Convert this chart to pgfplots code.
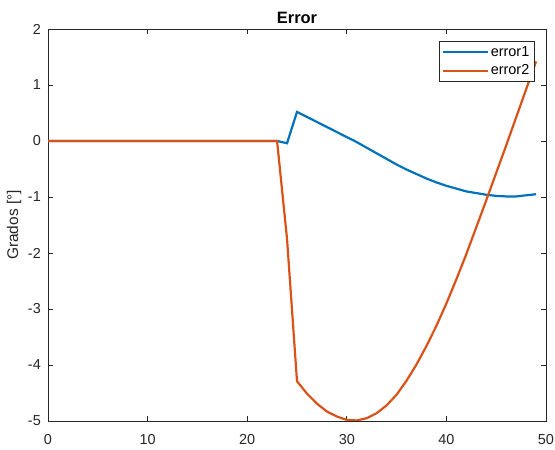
\documentclass[border=0pt]{standalone}
\usepackage{fontspec}
\setmainfont{Liberation Sans}
\usepackage{pgfplots}
\pgfplotsset{compat=1.18}
\definecolor{mblue}{rgb}{0,0.447,0.741}
\definecolor{morange}{rgb}{0.85,0.325,0.098}
\definecolor{axgray}{rgb}{0.15,0.15,0.15}
\begin{document}
\begin{tikzpicture}
\begin{axis}[
  at={(0,0)}, anchor=south west,
  scale only axis, width=498bp, height=392bp,
  xmin=0, xmax=50, ymin=-5, ymax=2,
  xtick={0,10,...,50}, ytick={-5,-4,...,2},
  tick align=inside, major tick length=5bp,
  axis line style={color=axgray, line width=0.7bp},
  tick style={color=axgray, line width=0.7bp},
  /pgf/number format/assume math mode=true,
  ticklabel style={font=\fontsize{14.5}{17}\selectfont, color=axgray},
  yticklabel style={inner sep=0pt, xshift=-7bp},
  xticklabel style={inner sep=0pt, yshift=-13bp},
  title={Error},
  title style={at={(axis description cs:0.5,1)}, anchor=base, inner sep=0pt, font=\bfseries\fontsize{16.5}{19}\selectfont, color=black},
  ylabel={Grados [°]},
  ylabel style={at={(axis description cs:-0.068,0.5)}, anchor=center, font=\fontsize{15.5}{18}\selectfont, color=axgray},
  legend cell align=left,
  legend style={at={(0.976,0.969)}, anchor=north east, draw=axgray, line width=0.5bp,
    font=\fontsize{14.5}{17}\selectfont, inner xsep=2.5bp, inner ysep=3bp, row sep=3bp,
    nodes={inner xsep=2bp, inner ysep=2bp}},
  legend image code/.code={\draw[#1] (0bp,0bp) -- (45bp,0bp);},
]
\addplot[color=mblue, line width=2.2bp] coordinates {
(0,0)(23,0)(24,-0.04)(25,0.52)(26,0.43)(27,0.34)(28,0.25)(29,0.16)(30,0.07)(31,-0.02)(32,-0.12)(33,-0.22)(34,-0.32)(35,-0.42)(36,-0.51)(37,-0.59)(38,-0.67)(39,-0.74)(40,-0.80)(41,-0.85)(42,-0.90)(43,-0.93)(44,-0.96)(45,-0.98)(46,-0.99)(47,-0.99)(48,-0.97)(49,-0.95)
};
\addlegendentry{error1}
\addplot[color=morange, line width=2.2bp] coordinates {
(0,0)(23,0)(24,-1.75)(25,-4.29)(26,-4.51)(27,-4.69)(28,-4.83)(29,-4.92)(30,-4.98)(31,-4.99)(32,-4.95)(33,-4.86)(34,-4.72)(35,-4.53)(36,-4.28)(37,-3.99)(38,-3.66)(39,-3.30)(40,-2.90)(41,-2.47)(42,-2.02)(43,-1.54)(44,-1.06)(45,-0.57)(46,-0.08)(47,0.42)(48,0.92)(49,1.42)
};
\addlegendentry{error2}
\end{axis}
\pgfresetboundingbox
\path[use as bounding box] (-48bp,-29bp) rectangle (507bp,421bp);
\end{tikzpicture}
\end{document}
